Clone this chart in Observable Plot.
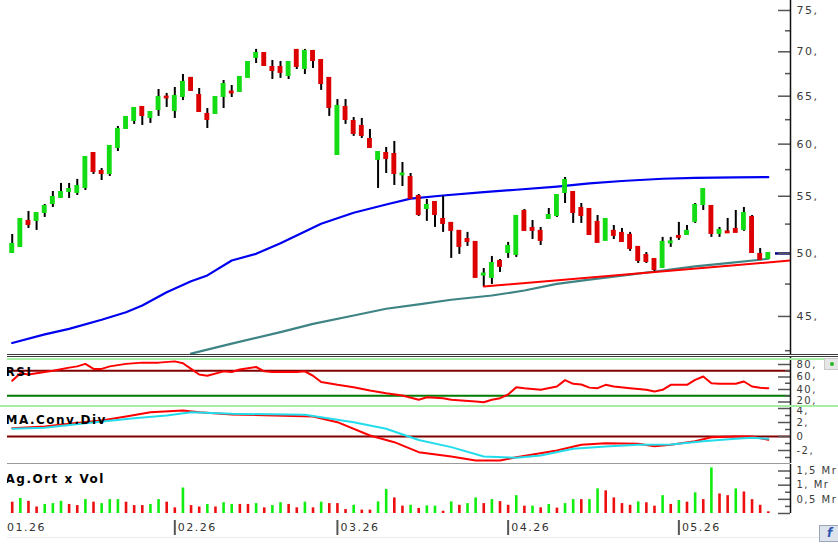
<!DOCTYPE html>
<html><head><meta charset="utf-8">
<script src="https://cdn.jsdelivr.net/npm/d3@7"></script>
<script src="https://cdn.jsdelivr.net/npm/@observablehq/plot@0.6"></script>
<style>
body{margin:0;background:#fff;}
#wrap{position:relative;width:838px;height:544px;overflow:hidden;background:#fff;font-family:"DejaVu Sans",Verdana,sans-serif;}
#wrap svg{position:absolute;left:0;}
#wrap svg text{letter-spacing:1.5px;}
#wrap g[aria-label="sub tick label"] text{letter-spacing:1px;}
#wrap g[aria-label="panel title"] text{letter-spacing:0;}
.ln{position:absolute;}
</style></head><body><div id="wrap"></div>
<script>
// ---------- data (trading-day index 0..93, Jan 5 2026 onward) ----------
const openP  = [50.07,50.58,52.74,52.82,53.53,54.34,54.89,55.44,55.35,55.81,59.07,57.32,57.13,59.67,61.59,62.42,63.79,62.73,63.57,64.90,63.47,64.97,66.96,65.08,63.05,63.15,64.97,65.45,65.52,67.07,69.34,69.80,68.19,68.19,67.29,70.16,68.08,70.04,68.99,66.96,58.97,63.79,62.31,61.80,60.47,58.49,59.07,58.97,57.00,56.75,54.98,53.89,54.43,52.91,52.56,51.87,51.17,50.92,48.22,48.03,49.33,50.07,49.91,53.62,52.12,51.87,53.00,53.26,55.35,55.35,53.89,53.80,52.65,51.09,51.87,51.69,51.52,50.50,49.82,49.49,48.84,50.88,51.43,51.60,52.74,54.25,54.07,51.69,51.82,52.04,52.04,53.09,49.91,49.58];
const highP  = [51.60,52.91,53.62,53.44,54.25,55.44,56.19,56.19,56.57,58.68,59.07,57.61,59.77,61.80,62.84,63.79,63.79,63.36,65.73,65.30,65.95,67.40,67.07,65.84,63.68,64.86,66.73,66.17,67.07,68.76,70.28,69.80,68.99,68.88,68.88,70.28,70.28,70.16,68.99,66.96,64.64,64.64,62.73,62.63,61.49,59.17,59.67,60.27,58.19,57.13,55.16,54.71,54.52,54.98,52.65,51.87,51.78,51.00,48.75,49.74,49.49,50.92,53.18,53.80,52.82,52.21,53.89,55.07,56.75,55.35,54.34,53.80,53.26,52.91,52.38,52.12,51.78,50.50,50.07,49.49,51.35,51.35,52.65,52.38,54.34,55.62,54.07,52.21,53.00,53.71,53.98,53.26,50.41,49.99];
const lowP   = [49.99,50.50,52.12,51.95,53.09,53.98,54.80,54.80,55.07,55.53,57.04,56.47,56.85,59.27,61.59,62.01,61.90,62.11,62.84,63.79,62.63,64.53,65.52,63.36,61.59,63.15,63.68,64.86,65.41,67.07,68.65,68.42,66.84,66.96,66.84,67.96,67.40,68.08,65.63,62.84,58.97,62.01,60.78,60.57,59.57,55.72,57.13,56.00,55.90,54.80,53.18,52.74,52.21,51.78,49.58,49.91,50.58,48.03,47.31,47.47,48.43,49.58,49.66,51.87,51.17,50.66,52.91,53.09,54.34,52.56,52.56,51.60,50.92,51.09,51.17,50.92,50.16,49.16,49.16,48.43,48.75,50.50,51.09,51.52,52.56,53.71,51.35,51.35,51.69,51.78,51.87,49.99,49.49,49.49];
const closeP = [50.75,52.91,52.47,53.44,54.07,54.89,55.35,55.62,55.90,58.68,57.32,57.13,59.77,61.49,62.73,63.68,62.94,63.26,64.86,64.82,64.97,66.51,65.63,63.36,62.52,64.86,66.28,65.35,67.07,68.76,69.80,68.42,67.85,67.63,68.76,68.31,70.04,68.99,66.39,63.79,63.90,62.52,61.08,60.88,59.67,59.17,58.58,57.13,57.08,54.80,53.35,54.16,53.35,52.56,51.95,50.58,51.00,48.03,48.30,49.16,48.92,50.58,53.18,51.95,51.95,51.09,53.26,55.07,56.47,53.53,53.26,51.60,50.92,52.91,51.52,51.00,50.41,49.41,49.33,48.67,50.92,50.96,51.35,51.87,54.16,55.62,51.69,51.95,51.74,51.78,53.44,50.07,49.49,49.99];

const ma50Idx = [0,4,7,11,14,16,19,22,24,27,30,33,38,42,46,49,53,58,62,67,71,75,80,84,89,93];
const ma50Val = [43.05,43.67,44.08,44.75,45.32,45.83,46.86,47.73,48.19,49.41,49.96,50.85,52.53,53.51,54.25,54.78,55.07,55.38,55.60,55.90,56.20,56.42,56.63,56.71,56.77,56.78];
const ma200Idx = [22,27,33,37,42,46,50,54,59,63,67,71,76,80,84,88,92,93];
const ma200Val = [42.29,43.00,43.84,44.45,45.07,45.58,45.91,46.27,46.60,46.99,47.52,47.85,48.25,48.59,48.92,49.19,49.47,49.55];
const trendIdx = [58, 96];
const trendVal = [47.31, 49.42];

const rsiIdx = [0,1,2,5,7,8,9,10,11,12,14,16,18,20,21,22,23,24,26,27,28,30,31,32,35,36,37,38,40,42,44,46,48,50,51,53,54,57,58,59,60,61,62,63,65,67,68,69,70,71,72,73,74,76,78,79,80,81,83,84,85,86,87,89,90,91,92,93];
const rsiVal = [54,66,64,70,75,77,81,73,73,77,81,83,83,85,82,73,64,62,69,68,72,76,69,68,68,69,62,52,47.5,43.7,38.4,34.1,30.4,23.5,27.7,26.1,23.5,20.8,19.7,23.5,26.1,32,43.7,42.1,39.5,44.8,55,49.1,48,43,42.1,47.5,44.8,42.1,39.5,36.8,39.5,47.5,47.5,55.5,60.8,50.1,49.1,49.1,52.8,44.8,42.7,42.1];
const rsiLevels = [70, 30];

const macdIdx = [0,4,7,11,14,17,21,23,27,37,40,44,47,50,54,57,60,62,67,70,73,77,79,81,84,86,89,91,93];
const macdVal = [1.19,1.43,1.81,2.29,2.86,3.48,3.71,3.48,3.14,2.86,2.05,0.14,-0.81,-2.24,-2.86,-3.43,-3.43,-2.95,-2.0,-1.19,-0.95,-1.05,-1.38,-1.19,-0.67,-0.1,0,0,-0.48];
const sigIdx = [0,4,9,15,19,22,27,36,38,42,46,50,54,58,62,65,69,73,77,81,85,89,91,93];
const sigVal = [1.1,1.24,1.9,2.62,3.0,3.48,3.24,3.1,2.76,2.05,1.1,-0.5,-1.52,-2.86,-3.05,-2.71,-1.76,-1.43,-1.19,-1.14,-0.67,-0.33,-0.19,-0.33];

const volume = [0.40,0.53,0.43,0.23,0.32,0.35,0.43,0.32,0.28,0.49,0.40,0.35,0.49,0.49,0.40,0.28,0.28,0.32,0.49,0.40,0.20,0.90,0.28,0.23,0.32,0.23,0.38,0.32,0.32,0.32,0.35,0.20,0.28,0.38,0.32,0.20,0.40,0.20,0.40,0.35,0.35,0.14,0.29,0.12,0.12,0.41,0.85,0.55,0.26,0.29,0.18,
  0.27,0.26,0.08,0.41,0.29,0.35,0.55,0.35,0.49,0.42,0.29,0.63,0.26,0.26,0.20,0.32,0.19,0.35,0.49,0.49,0.49,0.87,0.80,0.55,0.35,0.29,0.41,0.38,0.26,0.63,0.32,0.46,0.40,0.73,0.49,1.61,0.69,0.63,0.87,0.76,0.49,0.29,0.06];
const volUp = [0,1,0,0,1,1,1,0,0,1,0,1,1,1,0,0,0,1,1,0,0,1,0,0,1,0,1,1,0,0,1,0,1,1,0,0,1,0,1,0,0,0,1,0,0,1,1,0,0,1,0,
  1,1,0,1,0,1,1,0,1,0,0,1,0,1,0,1,0,1,1,0,1,1,0,0,0,0,1,0,0,1,0,1,0,1,0,1,0,0,1,0,0,0,0];

const monthIdx = [-1, 20, 40, 61, 82];
const monthLabels = ["01.26", "02.26", "03.26", "04.26", "05.26"];

const priceMajor = [45, 50, 55, 60, 65, 70, 75];
const priceMinor = [42.5, 47.5, 52.5, 57.5, 62.5, 67.5, 72.5];
const rsiMajor = [20, 40, 60, 80];
const rsiMinor = [30, 50, 70];
const macdMajor = [-4, -2, 0, 2, 4];
const macdMinor = [-3, -1, 1, 3];
const volMajor = [0, 0.5, 1, 1.5];
const volMinor = [0.25, 0.75, 1.25];
const volTickLabels = ["", "0,5 Mr", "1, Mr", "1,5 Mr"];

// ---------- layout ----------
const W = 838, ML = 7, MR = 48;
const X_DOMAIN = [-0.58, 95.73];
const GREEN = "#14dc14", RED = "#dc0000";
const FONT = '"DejaVu Sans", Verdana, sans-serif';
const wrap = document.getElementById("wrap");

const pairs = (idx, val) => idx.map((i, k) => ({i, v: val[k]}));
const candles = openP.map((o, i) => ({i, o, h: highP[i], l: lowP[i], c: closeP[i], up: closeP[i] >= openP[i]}));
const vols = volume.map((v, i) => ({i, v, up: volUp[i] === 1}));
const months = monthIdx.map((i, k) => ({i, label: monthLabels[k]}));

function tickMarks(major, minor) {
  return [
    Plot.tickY(minor, {y: d => d, stroke: "#555", strokeWidth: 1.5, insetLeft: 778}),
    Plot.tickY(major, {y: d => d, stroke: "#555", strokeWidth: 1.5, insetLeft: 771}),
    Plot.ruleX([X_DOMAIN[1]], {stroke: "#111", strokeWidth: 1.5})
  ];
}
function labels(values, fmt, dy = 0, sub = true) {
  return Plot.axisY(values, {anchor: "right", tickSize: 0, tickPadding: 6, tickFormat: fmt, fill: "#3a3a3a",
    fontSize: sub ? 10 : 11, label: null, dy, ariaLabel: sub ? "sub tick label" : "y-axis tick label"});
}
function title(t, dy) {
  return Plot.text([t], {text: d => d, frameAnchor: "top-left", dx: -2, dy, textAnchor: "start", fontWeight: "bold", fontSize: 12, fill: "#000", clip: true, ariaLabel: "panel title"});
}
function place(svg, top) {
  svg.style.top = top + "px";
  svg.style.overflow = "hidden";
  svg.style.background = "transparent";
  wrap.appendChild(svg);
}
const base = {width: W, marginLeft: ML, marginRight: MR, marginTop: 0, marginBottom: 0,
  style: {fontFamily: FONT, fontSize: "11px"}};

// main price panel
place(Plot.plot({...base, height: 354,
  x: {domain: X_DOMAIN, axis: null},
  y: {type: "log", domain: [42.23, 76.26], axis: null, label: null},
  marks: [
    Plot.line(pairs(ma200Idx, ma200Val), {x: "i", y: "v", stroke: "#3f8484", strokeWidth: 2.2, clip: true}),
    Plot.line(pairs(ma50Idx, ma50Val), {x: "i", y: "v", stroke: "#0000f0", strokeWidth: 2.2, clip: true}),
    Plot.ruleX(candles, {x: "i", y1: "l", y2: "h", stroke: "#000", strokeWidth: 2}),
    Plot.rect(candles, {x1: d => d.i - 0.3, x2: d => d.i + 0.3, y1: "o", y2: "c", fill: d => d.up ? GREEN : RED, insetTop: -1, insetBottom: -1}),
    Plot.line(pairs(trendIdx, trendVal), {x: "i", y: "v", stroke: "#ff0000", strokeWidth: 2, clip: true}),
    Plot.tickY([closeP[closeP.length - 1]], {y: d => d, stroke: "#000080", strokeWidth: 2.5, insetLeft: 768}),
    ...tickMarks(priceMajor, priceMinor),
    labels(priceMajor, d => d + ",", 0, false)
  ]
}), 0);

// RSI panel (357..406 px, 0.625 px per RSI point)
place(Plot.plot({...base, height: 49,
  x: {domain: X_DOMAIN, axis: null},
  y: {domain: [12.8, 91.2], axis: null, label: null},
  marks: [
    Plot.ruleY(rsiLevels, {y: d => d, stroke: d => d > 50 ? "#800000" : "#007a00", strokeWidth: 2}),
    Plot.line(pairs(rsiIdx, rsiVal), {x: "i", y: "v", stroke: "#ff0000", strokeWidth: 2}),
    title("RSI", 10),
    ...tickMarks(rsiMajor, rsiMinor),
    labels(rsiMajor.filter(d => d > 20), d => d + ","),
    labels(rsiMajor.filter(d => d === 20), d => d + ",", -1.5)
  ]
}), 357);

// MACD panel (405..463 px, 7 px per unit)
place(Plot.plot({...base, height: 58,
  x: {domain: X_DOMAIN, axis: null},
  y: {domain: [-3.857, 4.429], axis: null, label: null},
  marks: [
    Plot.ruleY([0], {stroke: "#800000", strokeWidth: 2}),
    Plot.line(pairs(macdIdx, macdVal), {x: "i", y: "v", stroke: "#ff0000", strokeWidth: 2}),
    Plot.line(pairs(sigIdx, sigVal), {x: "i", y: "v", stroke: "#22dcec", strokeWidth: 2}),
    title("MA.Conv.Div", 10),
    ...tickMarks(macdMajor, macdMinor),
    labels(macdMajor.filter(d => Math.abs(d) < 4), d => d === 0 ? "0" : d + ","),
    labels(macdMajor.filter(d => d === 4), d => d + ",", 2.7)
  ]
}), 405);

// Volume panel + date axis
place(Plot.plot({...base, height: 80, marginBottom: 31,
  x: {domain: X_DOMAIN, axis: null},
  y: {domain: [0, 1.73], axis: null, label: null},
  marks: [
    Plot.ruleX(vols, {x: "i", y1: 0, y2: "v", stroke: d => d.up ? "#10ee10" : "#ee1010", strokeWidth: 2.6}),
    title("Ag.Ort x Vol", 10),
    ...tickMarks(volMajor, volMinor),
    labels(volMajor.filter(d => d > 0), d => volTickLabels[volMajor.indexOf(d)]),
    Plot.ruleX(months.filter(d => d.i >= 0), {x: "i", stroke: "#555", strokeWidth: 2, insetTop: 56, insetBottom: -22}),
    Plot.text(months, {x: "i", text: "label", frameAnchor: "bottom", dy: 17, dx: 3, textAnchor: "start", fill: "#333", fontSize: 11, ariaLabel: "date label"})
  ]
}), 464);

// panel separators and small widgets
function line(left, top, width, height, color) {
  const d = document.createElement("div");
  d.className = "ln";
  Object.assign(d.style, {left: left + "px", top: top + "px", width: width + "px", height: height + "px", background: color});
  wrap.appendChild(d);
}
line(7, 354, 831, 1, "#3a3a3a");
line(7, 356, 831, 1, "#3a3a3a");
line(7, 358, 831, 1.5, "#a6eea6");
line(0, 405, 838, 1.5, "#a6eea6");
line(7, 463, 783, 1, "#9a9a9a");
line(7, 537, 831, 1, "#ececec");
const btn = document.createElement("div");
Object.assign(btn.style, {position: "absolute", left: "824px", top: "358px", width: "14px", height: "10px", background: "#e6e6e6", border: "1px solid #c8c8c8"});
btn.innerHTML = '<div style="position:absolute;left:5px;top:3px;width:4px;height:4px;border-radius:2px;background:#22bb22"></div>';
wrap.appendChild(btn);
const fb = document.createElement("div");
Object.assign(fb.style, {position: "absolute", left: "819px", top: "525px", width: "19px", height: "15px", background: "#dde3ec", border: "1px solid #9aa6b8", color: "#2a55b0", font: "bold italic 12px " + FONT, textAlign: "center", lineHeight: "15px"});
fb.textContent = "f";
wrap.appendChild(fb);
</script>
</body></html>
